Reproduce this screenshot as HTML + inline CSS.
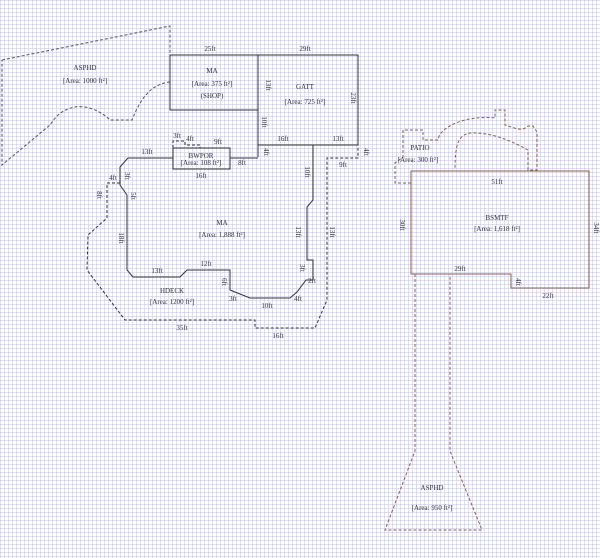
<!DOCTYPE html>
<html><head><meta charset="utf-8"><style>
html,body{margin:0;padding:0;}
body{width:600px;height:558px;overflow:hidden;background-color:#fff;
background-image:
linear-gradient(to right, rgba(185,185,225,0.45) 1px, transparent 1px),
linear-gradient(to bottom, rgba(185,185,225,0.45) 1px, transparent 1px);
background-size:4px 4px;}
svg{position:absolute;left:0;top:0;}
text{font-family:"Liberation Serif",serif;font-size:7px;fill:#333;}
</style></head><body>
<svg width="600" height="558" viewBox="0 0 600 558">
<g fill="none" stroke="#333" stroke-width="1">
<path d="M2,60 L170,26 L170,55 M170,82 C150,84 140,100 132,120 L110,120 C100,110 85,105 75,107 C60,110 55,118 50,125 L2,165 L2,60" stroke-dasharray="3,2" stroke="#555"/>
<rect x="170" y="55" width="88" height="55"/>
<path d="M258,55 L358,55 L358,145 L258,145 M258,55 L258,157 M313,145 L313,200 L307,207 L307,260 L313,260 L313,280 L306,280 L297,292 L290,298 L250,298 L230,290 L230,270 L187,270 L180,277 L133,277 L127,270 L127,195 L120,185 L120,167 L128,158 L173,158 M230,158 L258,158"/>
<rect x="173" y="148" width="57" height="21"/>
<path d="M173,148 L173,141 L185,141 L185,145 L200,145 L200,148" stroke-dasharray="3,2"/>
<path d="M120,183 L107,183 L107,218 L88,235 L87,270 L125,320 L255,320 L255,328 L315,328 L327,300 L327,158 L358,158 L358,145" stroke-dasharray="3,2"/>
</g>
<g fill="none" stroke="#8a6048" stroke-width="1">
<path d="M411,171 L589,171 L589,288 L511,288 L511,274 L411,274 Z"/>
<path d="M411,183 L395,183 L395,163 L403,157 L403,130 L423,130 L423,140 L438,140 C440,125 470,115 495,118 L495,110 L505,110 L505,125 C515,128 522,132 528,126 L533,126 L537,132 L537,170 L528,170 L528,150 C510,140 490,132 470,133 C458,135 455,145 455,170" stroke-dasharray="3,2"/>
<path d="M415,274 L415,451 L385,530 L482,530 L450,451 L450,274" stroke-dasharray="3,2"/>
</g>
<g text-anchor="middle">
<text x="85" y="70">ASPHD</text><text x="85" y="83">[Area: 1000 ft²]</text>
<text x="212" y="73">MA</text><text x="212" y="86">[Area: 375 ft²]</text><text x="212" y="98">(SHOP)</text>
<text x="305" y="89">GATT</text><text x="305" y="104">[Area: 725 ft²]</text>
<text x="210" y="51">25ft</text><text x="305" y="51">29ft</text>
<text x="283" y="141">16ft</text><text x="338" y="141">13ft</text>
<text x="147" y="154">13ft</text><text x="177" y="138">3ft</text><text x="190" y="141">4ft</text><text x="218" y="144">9ft</text>
<text x="242" y="165">8ft</text><text x="201" y="178">16ft</text><text x="343" y="167">9ft</text>
<text x="201" y="158" font-size="5">BWPOR</text><text x="201" y="165" font-size="5">[Area: 108 ft²]</text>
<text x="222" y="225">MA</text><text x="222" y="237">[Area: 1,888 ft²]</text>
<text x="113" y="180">4ft</text><text x="157" y="273">13ft</text><text x="206" y="266">12ft</text>
<text x="233" y="301">3ft</text><text x="267" y="308">10ft</text><text x="298" y="301">4ft</text><text x="312" y="283">2ft</text>
<text x="172" y="293">HDECK</text><text x="172" y="304">[Area: 1200 ft²]</text>
<text x="182" y="330">35ft</text><text x="278" y="338">16ft</text>
<text x="420" y="150" fill="#7a4a2a">PATIO</text><text x="418" y="162" fill="#7a4a2a">[Area: 300 ft²]</text>
<text x="497" y="184" fill="#7a4a2a">51ft</text>
<text x="497" y="220" fill="#7a4a2a">BSMTF</text><text x="497" y="231" fill="#7a4a2a">[Area: 1,618 ft²]</text>
<text x="460" y="271" fill="#7a4a2a">29ft</text><text x="548" y="298" fill="#7a4a2a">22ft</text>
<text x="432" y="490" fill="#7a4a2a">ASPHD</text><text x="432" y="510" fill="#7a4a2a">[Area: 950 ft²]</text>
</g>
<g text-anchor="middle" font-size="7">
<text transform="translate(266,85) rotate(90)">13ft</text>
<text transform="translate(262,122) rotate(90)">10ft</text>
<text transform="translate(351,98) rotate(90)">23ft</text>
<text transform="translate(264,152) rotate(90)">4ft</text>
<text transform="translate(364,152) rotate(90)">4ft</text>
<text transform="translate(305,172) rotate(90)">10ft</text>
<text transform="translate(296,232) rotate(90)">13ft</text>
<text transform="translate(330,232) rotate(90)">13ft</text>
<text transform="translate(119,238) rotate(90)">18ft</text>
<text transform="translate(97,195) rotate(90)">8ft</text>
<text transform="translate(125,176) rotate(90)">3ft</text>
<text transform="translate(131,196) rotate(90)">5ft</text>
<text transform="translate(222,282) rotate(90)">6ft</text>
<text transform="translate(300,268) rotate(90)">3ft</text>
<text transform="translate(400,225) rotate(90)" fill="#7a4a2a">30ft</text>
<text transform="translate(594,228) rotate(90)" fill="#7a4a2a">34ft</text>
<text transform="translate(516,282) rotate(90)" fill="#7a4a2a">4ft</text>
</g>
</svg>
</body></html>
